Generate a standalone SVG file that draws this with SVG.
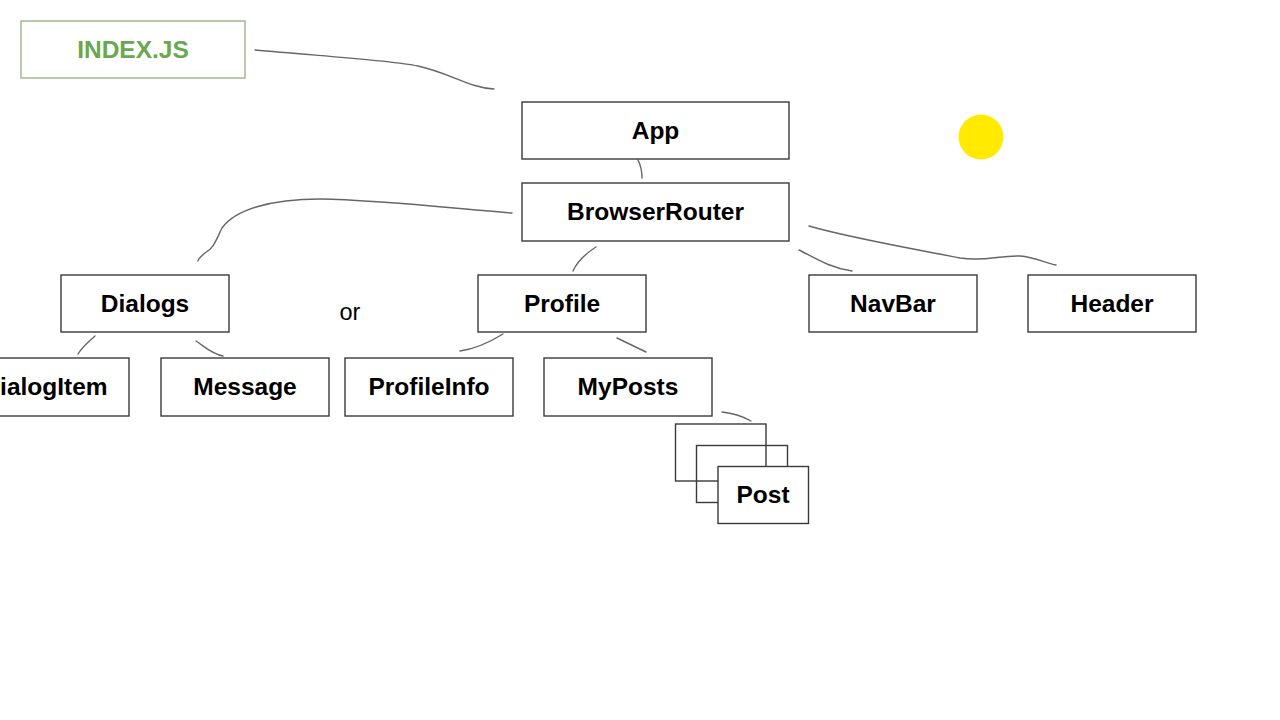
<svg xmlns="http://www.w3.org/2000/svg" width="1280" height="720" viewBox="0 0 1280 720">
<style>
.box{fill:#fff;stroke:#3a3a3a;stroke-width:1.4}
.nofill{fill:none;stroke:#3a3a3a;stroke-width:1.4}
.lbl{font-family:"Liberation Sans",Arial,sans-serif;font-weight:bold;font-size:24.5px;fill:#000;text-anchor:middle}
.con{fill:none;stroke:#666;stroke-width:1.4;stroke-linecap:round}
</style>
<rect width="1280" height="720" fill="#fff"/>
<g id="connectors">
<path class="con" d="M255,50 C320,56 390,60 418,66 C450,73 470,88 494,89"/>
<path class="con" d="M638,160 C641,166 642,172 642,178"/>
<path class="con" d="M512,213 C450,208 380,200 320,199 C270,199 235,210 222,228 C216,240 214,248 205,253 C200,257 198,260 198,261"/>
<path class="con" d="M596,247 C585,254 577,262 573,271"/>
<path class="con" d="M799,250 C815,258 830,268 852,271"/>
<path class="con" d="M809,226 C850,238 920,250 960,258 C985,262 1000,255 1020,256 C1035,257 1045,263 1056,265"/>
<path class="con" d="M95,336 C88,342 82,347 78,354"/>
<path class="con" d="M196,341 C205,347 212,354 223,356"/>
<path class="con" d="M503,334 C490,342 475,349 460,351"/>
<path class="con" d="M617,338 L646,352"/>
<path class="con" d="M722,412 C732,413 742,416 751,421"/>
</g>
<g id="index">
<rect x="21" y="21" width="224" height="57" fill="#fff" stroke="#9ab78a" stroke-width="1.4"/>
<text x="133" y="57.5" class="lbl" style="fill:#6aa84f">INDEX.JS</text>
</g>
<g id="app">
<rect class="box" x="522" y="102" width="267" height="57"/>
<text x="655.5" y="139" class="lbl">App</text>
</g>
<g id="browserrouter">
<rect class="box" x="522" y="183" width="267" height="58"/>
<text x="655.5" y="220" class="lbl">BrowserRouter</text>
</g>
<g id="dialogs">
<rect class="box" x="61" y="275" width="168" height="57"/>
<text x="145" y="312" class="lbl">Dialogs</text>
</g>
<g id="or">
<text x="350" y="320" style="font-family:'Liberation Sans',Arial,sans-serif;font-size:23.5px;fill:#000;text-anchor:middle">or</text>
</g>
<g id="profile">
<rect class="box" x="478" y="275" width="168" height="57"/>
<text x="562" y="312" class="lbl">Profile</text>
</g>
<g id="navbar">
<rect class="box" x="809" y="275" width="168" height="57"/>
<text x="893" y="312" class="lbl">NavBar</text>
</g>
<g id="header">
<rect class="box" x="1028" y="275" width="168" height="57"/>
<text x="1112" y="312" class="lbl">Header</text>
</g>
<g id="dialogitem">
<rect class="box" x="-39" y="358" width="168" height="58"/>
<text x="45" y="395" class="lbl">DialogItem</text>
</g>
<g id="message">
<rect class="box" x="161" y="358" width="168" height="58"/>
<text x="245" y="395" class="lbl">Message</text>
</g>
<g id="profileinfo">
<rect class="box" x="345" y="358" width="168" height="58"/>
<text x="429" y="395" class="lbl">ProfileInfo</text>
</g>
<g id="myposts">
<rect class="box" x="544" y="358" width="168" height="58"/>
<text x="628" y="395" class="lbl">MyPosts</text>
</g>
<g id="post">
<rect class="nofill" x="675.5" y="424" width="90.5" height="57"/>
<rect class="nofill" x="696.5" y="445.5" width="91" height="57"/>
<rect class="box" x="718" y="466.5" width="90.5" height="57"/>
<text x="763" y="503" class="lbl">Post</text>
</g>
<circle cx="981" cy="137" r="22.5" fill="#ffea00"/>
</svg>
